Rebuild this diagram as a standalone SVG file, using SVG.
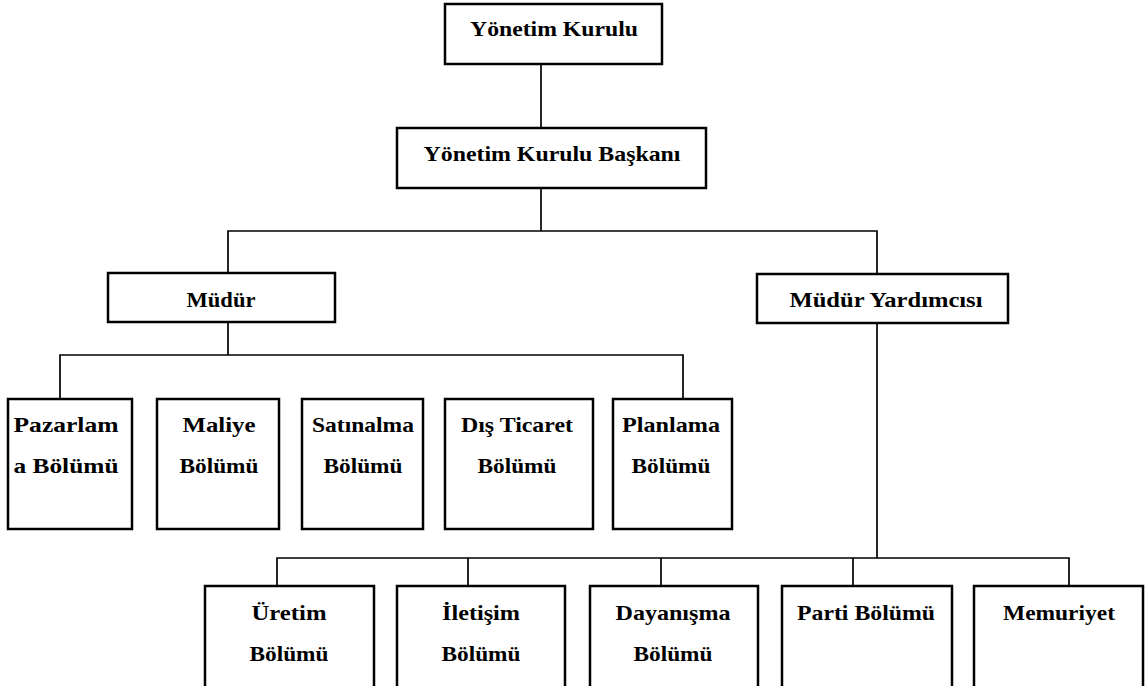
<svg xmlns="http://www.w3.org/2000/svg" width="1148" height="686" viewBox="0 0 1148 686">
  <style>
    .box { fill: #ffffff; stroke: #000000; stroke-width: 2.5; }
    .link { fill: none; stroke: #000000; stroke-width: 1.7; }
    .lbl { font-family: 'Liberation Serif', 'Times New Roman', Tinos, 'DejaVu Serif', 'Noto Serif', serif; font-weight: bold; font-size: 22px; fill: #000000; text-anchor: middle; }
  </style>
  <rect x="0" y="0" width="1148" height="686" fill="#ffffff"/>

  <!-- connectors -->
  <g id="connectors" class="link">
    <path class="link" d="M541 64 V128"/>
    <path class="link" d="M541 188 V231"/>
    <path class="link" d="M228 273 V231 H877 V274"/>
    <path class="link" d="M228 322 V355"/>
    <path class="link" d="M60 399 V355 H683 V399"/>
    <path class="link" d="M877 323 V558"/>
    <path class="link" d="M277 586 V558 H1069 V586"/>
    <path class="link" d="M468 558 V586"/>
    <path class="link" d="M661 558 V586"/>
    <path class="link" d="M853 558 V586"/>
  </g>

  <!-- top level -->
  <g id="yonetim-kurulu">
    <rect class="box" x="445" y="4" width="217" height="60"/>
    <text class="lbl" x="554" y="36" textLength="168" lengthAdjust="spacingAndGlyphs">Yönetim Kurulu</text>
  </g>
  <g id="yonetim-kurulu-baskani">
    <rect class="box" x="397" y="128" width="309" height="60"/>
    <text class="lbl" x="552" y="161" textLength="257" lengthAdjust="spacingAndGlyphs">Yönetim Kurulu Başkanı</text>
  </g>

  <!-- second level -->
  <g id="mudur">
    <rect class="box" x="108" y="273" width="227" height="49"/>
    <text class="lbl" x="221" y="307" textLength="69" lengthAdjust="spacingAndGlyphs">Müdür</text>
  </g>
  <g id="mudur-yardimcisi">
    <rect class="box" x="757" y="274" width="251" height="49"/>
    <text class="lbl" x="886" y="307" textLength="193" lengthAdjust="spacingAndGlyphs">Müdür Yardımcısı</text>
  </g>

  <!-- departments under Müdür -->
  <g id="pazarlama">
    <rect class="box" x="8" y="399" width="124" height="130"/>
    <text class="lbl" x="66" y="432" textLength="105" lengthAdjust="spacingAndGlyphs">Pazarlam</text>
    <text class="lbl" x="66" y="473" textLength="105" lengthAdjust="spacingAndGlyphs">a Bölümü</text>
  </g>
  <g id="maliye">
    <rect class="box" x="157" y="399" width="122" height="130"/>
    <text class="lbl" x="219" y="432" textLength="73" lengthAdjust="spacingAndGlyphs">Maliye</text>
    <text class="lbl" x="219" y="473" textLength="79" lengthAdjust="spacingAndGlyphs">Bölümü</text>
  </g>
  <g id="satinalma">
    <rect class="box" x="302" y="399" width="121" height="130"/>
    <text class="lbl" x="363" y="432" textLength="102" lengthAdjust="spacingAndGlyphs">Satınalma</text>
    <text class="lbl" x="363" y="473" textLength="79" lengthAdjust="spacingAndGlyphs">Bölümü</text>
  </g>
  <g id="dis-ticaret">
    <rect class="box" x="445" y="399" width="148" height="130"/>
    <text class="lbl" x="517" y="432" textLength="112" lengthAdjust="spacingAndGlyphs">Dış Ticaret</text>
    <text class="lbl" x="517" y="473" textLength="79" lengthAdjust="spacingAndGlyphs">Bölümü</text>
  </g>
  <g id="planlama">
    <rect class="box" x="613" y="399" width="119" height="130"/>
    <text class="lbl" x="671" y="432" textLength="98" lengthAdjust="spacingAndGlyphs">Planlama</text>
    <text class="lbl" x="671" y="473" textLength="79" lengthAdjust="spacingAndGlyphs">Bölümü</text>
  </g>

  <!-- departments under Müdür Yardımcısı -->
  <g id="uretim">
    <rect class="box" x="205" y="586" width="169" height="130"/>
    <text class="lbl" x="289" y="620" textLength="75" lengthAdjust="spacingAndGlyphs">Üretim</text>
    <text class="lbl" x="289" y="661" textLength="79" lengthAdjust="spacingAndGlyphs">Bölümü</text>
  </g>
  <g id="iletisim">
    <rect class="box" x="397" y="586" width="168" height="130"/>
    <text class="lbl" x="481" y="620" textLength="78" lengthAdjust="spacingAndGlyphs">İletişim</text>
    <text class="lbl" x="481" y="661" textLength="79" lengthAdjust="spacingAndGlyphs">Bölümü</text>
  </g>
  <g id="dayanisma">
    <rect class="box" x="590" y="586" width="168" height="130"/>
    <text class="lbl" x="673" y="620" textLength="115" lengthAdjust="spacingAndGlyphs">Dayanışma</text>
    <text class="lbl" x="673" y="661" textLength="79" lengthAdjust="spacingAndGlyphs">Bölümü</text>
  </g>
  <g id="parti">
    <rect class="box" x="782" y="586" width="170" height="130"/>
    <text class="lbl" x="866" y="620" textLength="138" lengthAdjust="spacingAndGlyphs">Parti Bölümü</text>
  </g>
  <g id="memuriyet">
    <rect class="box" x="974" y="586" width="169" height="130"/>
    <text class="lbl" x="1059" y="620" textLength="112" lengthAdjust="spacingAndGlyphs">Memuriyet</text>
  </g>
</svg>
